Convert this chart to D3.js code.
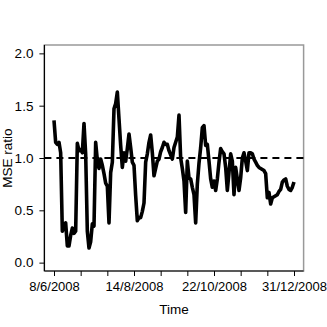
<!DOCTYPE html>
<html><head><meta charset="utf-8">
<script src="https://cdn.jsdelivr.net/npm/d3@7"></script>
<style>body{margin:0;background:#fff}svg{display:block}text{font-family:"Liberation Sans",Arial,sans-serif;fill:#000}</style>
</head><body><div id="chart"></div>
<script>
const mseRatio = [
1.36,1.15,1.13,1.15,1.05,0.30,0.34,0.38,0.16,0.16,
0.26,0.33,0.28,0.30,1.14,1.07,1.08,1.05,1.33,1.04,
0.30,0.14,0.20,0.37,0.35,1.15,0.98,0.90,0.99,0.93,
0.85,0.76,0.73,0.38,0.86,0.96,1.47,1.52,1.63,1.375,
1.12,0.91,1.05,0.97,1.09,1.23,1.10,0.96,0.93,0.64,
0.40,0.43,0.43,0.49,0.57,0.96,1.04,1.15,1.22,1.05,
0.83,0.90,0.97,0.99,1.06,1.10,1.15,1.13,1.13,1.07,
1.03,0.99,1.10,1.15,1.20,1.41,1.00,0.90,0.78,0.48,
0.97,0.81,0.80,0.72,0.65,0.38,0.75,0.95,1.10,1.29,
1.31,1.12,1.13,0.97,0.80,0.72,0.78,0.69,0.80,0.96,
1.09,1.06,1.04,0.91,0.69,0.86,1.04,0.97,0.65,0.91,
0.80,0.69,0.81,1.00,1.05,0.97,0.88,1.05,1.05,1.04,
0.99,0.96,0.93,0.91,0.90,0.89,0.88,0.85,0.62,0.67,
0.56,0.62,0.63,0.64,0.65,0.68,0.70,0.77,0.79,0.80,
0.73,0.70,0.69,0.72,0.77];
const xTickIdx = [1,17,33,49,65,81,97,113,129,145];
const xLabelIdx = [1,49,97,145];
const xLabels = ["8/6/2008","14/8/2008","22/10/2008","31/12/2008"];
const yTicks = [0.0,0.5,1.0,1.5,2.0];
const refLevel = 1.0;

const W=327,H=327;
const L=44.4,R=303.6,T=45,B=271;
const svg=d3.select("#chart").append("svg").attr("width",W).attr("height",H);
const n=mseRatio.length;
const pad=(n-1)*0.04;
const x=d3.scaleLinear().domain([1-pad,n+pad]).range([L,R]);
const y=d3.scaleLinear().domain([-0.08,2.08]).range([B,T]);

svg.append("rect").attr("x",L).attr("y",T).attr("width",R-L).attr("height",B-T)
  .attr("fill","none").attr("stroke","#999").attr("stroke-width",1.5);

svg.append("line").attr("x1",L).attr("x2",R).attr("y1",y(refLevel)).attr("y2",y(refLevel))
  .attr("stroke","#000").attr("stroke-width",2).attr("stroke-dasharray","7,5");

const line=d3.line().x((d,i)=>x(i+1)).y(d=>y(d));
svg.append("path").datum(mseRatio).attr("d",line).attr("fill","none")
  .attr("stroke","#000").attr("stroke-width",3.6).attr("stroke-linejoin","round");

const xAxis=d3.axisBottom(x).tickValues(xTickIdx).tickSize(5).tickPadding(4)
  .tickFormat(d=>{const k=xLabelIdx.indexOf(d);return k>=0?xLabels[k]:"";});
const gx=svg.append("g").attr("transform",`translate(0,${B})`).call(xAxis);
gx.select(".domain").attr("d",`M${L},0H${R}`).attr("stroke","#000").attr("stroke-width",1.2);
gx.selectAll(".tick line").attr("stroke","#000");
gx.selectAll("text").attr("font-size",13).attr("dy","0.85em").style("font-family","Liberation Sans, Arial, sans-serif");

const yAxis=d3.axisLeft(y).tickValues(yTicks).tickSize(5).tickPadding(6).tickFormat(d3.format(".1f"));
const gy=svg.append("g").attr("transform",`translate(${L},0)`).call(yAxis);
gy.select(".domain").attr("d",`M0,${T}V${B}`).attr("stroke","#000").attr("stroke-width",1.2);
gy.selectAll("text").attr("font-size",13.5).style("font-family","Liberation Sans, Arial, sans-serif");

svg.append("text").attr("x",(L+R)/2).attr("y",314).attr("text-anchor","middle")
  .attr("font-size",13.5).text("Time");
svg.append("text").attr("transform",`translate(12,${(T+B)/2}) rotate(-90)`).attr("text-anchor","middle")
  .attr("font-size",13.5).text("MSE ratio");
</script></body></html>
